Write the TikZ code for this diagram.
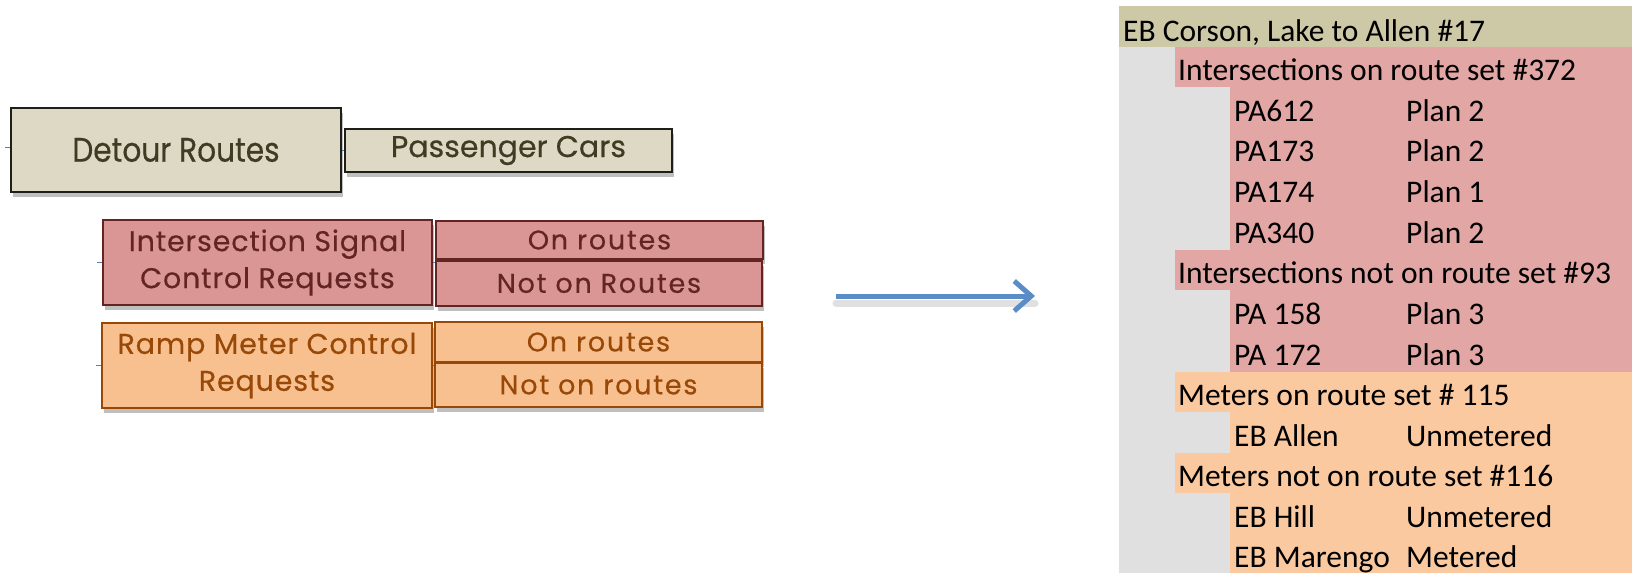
\documentclass[tikz,border=0pt]{standalone}
\usepackage{fontspec}
\usetikzlibrary{arrows.meta,shadows}
\newfontfamily\gothic[FakeBold=0.4]{Poppins}
\newfontfamily\gothicN[FakeStretch=0.87,FakeBold=0.4]{Poppins}
\newfontfamily\calfont{Carlito}

\definecolor{tanFill}{HTML}{DDD9C4}
\definecolor{tanText}{HTML}{403C24}
\definecolor{tanLine}{HTML}{1E1E1A}
\definecolor{pinkFill}{HTML}{D99694}
\definecolor{pinkLine}{HTML}{632523}
\definecolor{orFill}{HTML}{F8C08F}
\definecolor{orLine}{HTML}{984807}
\definecolor{linkBlue}{HTML}{4F81BD}
\definecolor{arrowBlue}{HTML}{5A8CC8}
\definecolor{tblHead}{HTML}{CDC8A6}
\definecolor{tblGray}{HTML}{E0E0E0}
\definecolor{tblPink}{HTML}{E2A6A5}
\definecolor{tblOr}{HTML}{FBC9A0}

\tikzset{
  box/.style={draw, line width=2pt, inner sep=0pt, align=center,
    drop shadow={shadow xshift=2pt, shadow yshift=-5pt, opacity=0.25, fill=black}},
  tanbox/.style={box, fill=tanFill, draw=tanLine, text=tanText},
  pinkbox/.style={box, fill=pinkFill, draw=pinkLine, text=pinkLine},
  orbox/.style={box, fill=orFill, draw=orLine, text=orLine},
  leaf/.style={font=\gothic\fontsize{27}{32}\selectfont\addfontfeature{LetterSpace=6.5}},
  req/.style={font=\gothic\fontsize{28.5}{37}\selectfont\addfontfeature{LetterSpace=3}},
  stub/.style={draw=linkBlue, line width=1pt},
  cell/.style={anchor=base west, inner sep=0pt, font=\calfont\fontsize{31.5}{36}\selectfont, text=black},
}

\begin{document}
\begin{tikzpicture}[x=1pt,y=-1pt]
\useasboundingbox (0,0) rectangle (1632,573);

% ---- hierarchy boxes ----
\node[tanbox, minimum width=330pt, minimum height=84pt,
      font=\gothicN\fontsize{34}{40}\selectfont] (detour) at (176,150) {Detour Routes};
\node[tanbox, minimum width=327pt, minimum height=43pt,
      font=\gothic\fontsize{30}{36}\selectfont] (cars) at (508.5,150.5) {Passenger Cars};

\node[pinkbox, req, minimum width=329pt, minimum height=85pt] (isc) at (267.5,262.5)
      {Intersection Signal\\Control Requests};
\node[pinkbox, leaf, minimum width=327pt, minimum height=38pt] (ison) at (599.5,240) {On routes};
\node[pinkbox, leaf, minimum width=326pt, minimum height=45pt] (isnot) at (599,283.5) {Not on Routes};

\node[orbox, req, minimum width=330pt, minimum height=85pt] (ramp) at (267,365.5)
      {Ramp Meter Control\\Requests};
\node[orbox, leaf, minimum width=327pt, minimum height=40pt] (rmon) at (598.5,342) {On routes};
\node[orbox, leaf, minimum width=327pt, minimum height=44pt] (rmnot) at (598.5,385) {Not on routes};

% ---- connector stubs visible between boxes ----
\coordinate (dIn) at (5,147);
\coordinate (iIn) at (97,262);
\coordinate (rIn) at (96,365);
\path[stub] (dIn) -- (dIn -| detour.west);
\path[stub] (iIn) -- (iIn -| isc.west);
\path[stub] (rIn) -- (rIn -| ramp.west);
\path[stub] (detour.east) -- (detour.east -| cars.west);
\path[stub] (isc.east) -- (isc.east -| ison.west);
\path[stub] (ramp.east) -- (ramp.east -| rmon.west);

% ---- arrow ----
\coordinate (arrS) at (836,296);
\coordinate (arrE) at (1035,296);
\draw[line width=7pt, black, opacity=0.12, line cap=round] ([yshift=-7pt]arrS) -- ([yshift=-7pt]arrE);
\draw[line width=5pt, arrowBlue, -{Straight Barb[length=17pt, width=30pt, line width=5pt]}] (arrS) -- (arrE);

% ---- outline table ----
\fill[tblHead] (1119,6) rectangle (1632,47);
\fill[tblGray] (1119,47) rectangle (1632,573);
\fill[tblPink] (1175,47) rectangle (1632,87);
\fill[tblPink] (1230,87) rectangle (1632,250);
\fill[tblPink] (1175,250) rectangle (1632,290);
\fill[tblPink] (1230,290) rectangle (1632,372);
\fill[tblOr] (1175,372) rectangle (1632,412);
\fill[tblOr] (1230,412) rectangle (1632,453);
\fill[tblOr] (1175,453) rectangle (1632,493);
\fill[tblOr] (1230,493) rectangle (1632,573);

\node[cell] (t0) at (1123,41) {EB Corson, Lake to Allen \#17};
\node[cell] (t1) at (1178,80) {Intersections on route set \#372};
\node[cell] (t2a) at (1234,121) {PA612};   \node[cell] (t2b) at (1406,121) {Plan 2};
\node[cell] (t3a) at (1234,161) {PA173};   \node[cell] (t3b) at (1406,161) {Plan 2};
\node[cell] (t4a) at (1234,202) {PA174};   \node[cell] (t4b) at (1406,202) {Plan 1};
\node[cell] (t5a) at (1234,243) {PA340};   \node[cell] (t5b) at (1406,243) {Plan 2};
\node[cell] (t6) at (1178,283) {Intersections not on route set \#93};
\node[cell] (t7a) at (1234,324) {PA 158};  \node[cell] (t7b) at (1406,324) {Plan 3};
\node[cell] (t8a) at (1234,365) {PA 172};  \node[cell] (t8b) at (1406,365) {Plan 3};
\node[cell] (t9) at (1178,405) {Meters on route set \# 115};
\node[cell] (t10a) at (1234,446) {EB Allen};   \node[cell] (t10b) at (1406,446) {Unmetered};
\node[cell] (t11) at (1178,486) {Meters not on route set \#116};
\node[cell] (t12a) at (1234,527) {EB Hill};    \node[cell] (t12b) at (1406,527) {Unmetered};
\node[cell] (t13a) at (1234,567) {EB Marengo}; \node[cell] (t13b) at (1406,567) {Metered};
\end{tikzpicture}
\end{document}
